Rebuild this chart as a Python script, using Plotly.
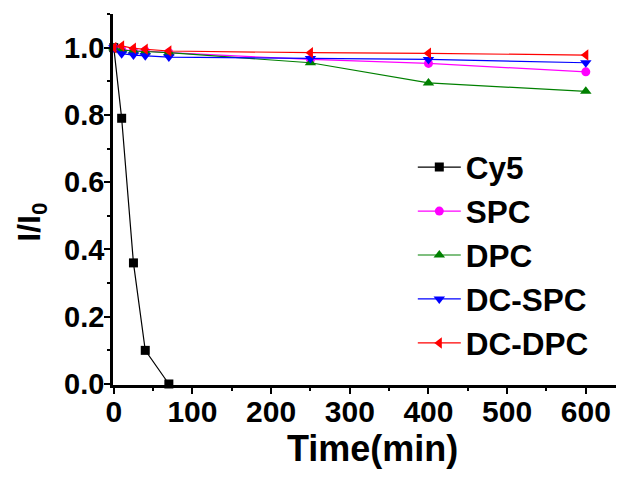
import plotly.graph_objects as go

t_cy5 = [0, 10, 25, 40, 70]
cy5 = [1.0, 0.79, 0.36, 0.10, 0.0]

t_other = [0, 10, 25, 40, 70, 250, 400, 600]
spc = [1.0, 0.995, 0.99, 0.99, 0.985, 0.965, 0.953, 0.928]
dpc = [1.0, 0.993, 0.99, 0.988, 0.985, 0.955, 0.895, 0.870]
dcspc = [1.0, 0.982, 0.978, 0.976, 0.972, 0.968, 0.965, 0.955]
dcdpc = [1.0, 1.005, 0.998, 0.995, 0.99, 0.985, 0.983, 0.978]

x_ticks = [0, 100, 200, 300, 400, 500, 600]
y_ticks = [0.0, 0.2, 0.4, 0.6, 0.8, 1.0]

series = [
    ("Cy5", t_cy5, cy5, "black", "square", 9),
    ("SPC", t_other, spc, "#FF00FF", "circle", 9),
    ("DPC", t_other, dpc, "#008000", "triangle-up", 10),
    ("DC-SPC", t_other, dcspc, "#0000FF", "triangle-down", 10),
    ("DC-DPC", t_other, dcdpc, "#FF0000", "triangle-left", 10),
]

fig = go.Figure()
for name, x, y, c, sym, sz in series:
    fig.add_trace(go.Scatter(
        x=x, y=y, name="<b>%s</b>" % name, mode="lines+markers",
        line=dict(color=c, width=1.2),
        marker=dict(color=c, symbol=sym, size=sz),
        cliponaxis=False,
    ))

font = "Arial"
fig.update_layout(
    width=624, height=477,
    margin=dict(l=105, r=10, t=6, b=100),
    plot_bgcolor="white", paper_bgcolor="white",
    font=dict(family=font, color="black"),
    legend=dict(x=0.589, y=0.66, xanchor="left", yanchor="top",
                font=dict(size=31.5, family=font),
                bgcolor="rgba(0,0,0,0)", itemwidth=43, tracegroupgap=0),
    annotations=[
        dict(text="<b>Time(min)</b>", x=0.509, y=-0.172, xref="paper", yref="paper",
             xanchor="center", yanchor="middle", showarrow=False,
             font=dict(size=36, family=font, color="black")),
        dict(text="<b>I/I<sub>0</sub></b>", x=-0.16, y=0.439, xref="paper", yref="paper",
             xanchor="center", yanchor="middle", showarrow=False, textangle=-90,
             font=dict(size=32, family=font, color="black")),
    ],
)
fig.update_xaxes(
    range=[-1, 646], showgrid=False, zeroline=False, automargin=False,
    showline=True, linecolor="black", linewidth=2.5,
    ticks="outside", tickwidth=2, ticklen=6, tickcolor="black",
    tickmode="array", tickvals=x_ticks, ticktext=["<b>%d</b>" % v for v in x_ticks],
    tickfont=dict(size=30, family=font), ticklabelstandoff=-8,
    minor=dict(ticks="outside", dtick=50, ticklen=3, tickwidth=2, tickcolor="black"),
)
fig.update_yaxes(
    range=[-0.003, 1.1], showgrid=False, zeroline=False, automargin=False,
    showline=True, linecolor="black", linewidth=2.5,
    ticks="outside", tickwidth=2, ticklen=6, tickcolor="black",
    tickmode="array", tickvals=y_ticks, ticktext=["<b>%.1f</b>" % v for v in y_ticks],
    tickfont=dict(size=29, family=font), ticklabelstandoff=-6,
    minor=dict(ticks="outside", dtick=0.1, ticklen=3, tickwidth=2, tickcolor="black"),
)
fig.write_html("out.html")
